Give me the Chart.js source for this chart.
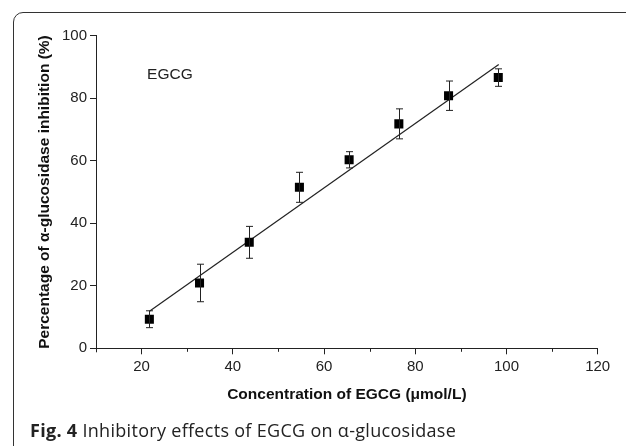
<!DOCTYPE html>
<html>
<head>
<meta charset="utf-8">
<script src="https://cdn.jsdelivr.net/npm/chart.js@4/dist/chart.umd.min.js"></script>
<style>
  html, body { margin: 0; padding: 0; background: #fff; }
  #wrap { position: relative; width: 626px; height: 446px; overflow: hidden; background: #fff; }
  #frame { position: absolute; left: 13px; top: 12px; width: 720px; height: 520px;
           border: 1.3px solid #333; border-radius: 10px; box-sizing: border-box; }
  #cap { position: absolute; left: 30px; top: 418px; font-family: "Open Sans", sans-serif;
         font-size: 18px; letter-spacing: 0.3px; color: #222; white-space: nowrap; line-height: 24px; }
  #cap b { font-weight: 700; }
  canvas { position: absolute; left: 0; top: 0; }
</style>
</head>
<body>
<div id="wrap">
  <div id="frame"></div>
  <canvas id="c" width="626" height="446"></canvas>
  <div id="cap"><b>Fig. 4</b> Inhibitory effects of EGCG on α-glucosidase</div>
</div>
<script>
// Data
const concentration = [21.7, 32.7, 43.6, 54.6, 65.5, 76.4, 87.3, 98.2];
const inhibition    = [9.3, 20.9, 33.9, 51.5, 60.3, 71.8, 80.8, 86.6];
const inhibitionErr = [2.7, 6.0, 5.1, 4.8, 2.6, 4.8, 4.7, 2.8];
const fitX = [21.8, 98.3];
const fitY = [11.9, 90.8];
const xTicks = [20, 40, 60, 80, 100, 120];
const xMinorTicks = [30, 50, 70, 90, 110];
const yTicks = [0, 20, 40, 60, 80, 100];
const seriesLabel = "EGCG";
const labelPos = [21.2, 87.4];

const ink = '#222';
const fam = '"Liberation Sans", Arial, sans-serif';

const extras = {
  id: 'extras',
  afterDatasetsDraw(chart) {
    const ctx = chart.ctx, xs = chart.scales.x, ys = chart.scales.y;
    ctx.save();
    ctx.strokeStyle = ink;
    ctx.lineWidth = 1;
    concentration.forEach((cx, i) => {
      const px = Math.round(xs.getPixelForValue(cx)) + 0.5;
      const top = ys.getPixelForValue(inhibition[i] + inhibitionErr[i]);
      const bot = ys.getPixelForValue(inhibition[i] - inhibitionErr[i]);
      ctx.beginPath();
      ctx.moveTo(px, top); ctx.lineTo(px, bot);
      ctx.moveTo(px - 3.5, top); ctx.lineTo(px + 3.5, top);
      ctx.moveTo(px - 3.5, bot); ctx.lineTo(px + 3.5, bot);
      ctx.stroke();
    });
    const yb = chart.chartArea.bottom;
    xMinorTicks.forEach(v => {
      const px = Math.round(xs.getPixelForValue(v)) + 0.5;
      ctx.beginPath(); ctx.moveTo(px, yb); ctx.lineTo(px, yb + 3.5); ctx.stroke();
    });
    const lx = Math.round(chart.chartArea.left) + 0.5;
    ctx.beginPath(); ctx.moveTo(lx, yb); ctx.lineTo(lx, yb + 4); ctx.stroke();
    ctx.fillStyle = ink;
    ctx.font = '15.5px ' + fam;
    ctx.textAlign = 'left';
    ctx.textBaseline = 'middle';
    ctx.fillText(seriesLabel, xs.getPixelForValue(labelPos[0]), ys.getPixelForValue(labelPos[1]));
    ctx.restore();
  }
};

new Chart(document.getElementById('c'), {
  type: 'scatter',
  data: {
    datasets: [
      {
        label: 'fit',
        type: 'line',
        data: fitX.map((x, i) => ({ x, y: fitY[i] })),
        borderColor: ink,
        borderWidth: 1.2,
        pointRadius: 0,
        fill: false,
        order: 2
      },
      {
        label: seriesLabel,
        data: concentration.map((x, i) => ({ x, y: inhibition[i] })),
        pointStyle: 'rect',
        pointRadius: 6.4,
        backgroundColor: '#000',
        borderColor: '#000',
        borderWidth: 0,
        order: 1
      }
    ]
  },
  options: {
    responsive: false,
    animation: false,
    devicePixelRatio: 1,
    layout: { padding: { left: 0, top: 35.7, right: 28.3, bottom: 0 } },
    plugins: { legend: { display: false }, tooltip: { enabled: false } },
    scales: {
      x: {
        type: 'linear',
        min: 10, max: 120,
        afterBuildTicks: s => { s.ticks = xTicks.map(v => ({ value: v })); },
        afterFit: s => { s.height = 446 - 348.3; },
        grid: { display: true, drawOnChartArea: false, drawTicks: true, tickLength: 6, color: ink, lineWidth: 1 },
        border: { display: true, color: ink, width: 1 },
        ticks: { color: ink, padding: 4, maxRotation: 0, font: { family: fam, size: 15 } },
        title: {
          display: true,
          text: 'Concentration of EGCG (μmol/L)',
          color: '#111',
          font: { family: fam, size: 15.5, weight: 'bold' },
          padding: { top: 0, bottom: 41.8 }
        }
      },
      y: {
        type: 'linear',
        min: 0, max: 100,
        afterBuildTicks: s => { s.ticks = yTicks.map(v => ({ value: v })); },
        afterFit: s => { s.width = 96; },
        grid: { display: true, drawOnChartArea: false, drawTicks: true, tickLength: 6, color: ink, lineWidth: 1 },
        border: { display: true, color: ink, width: 1 },
        ticks: { color: ink, padding: 3, font: { family: fam, size: 15 } },
        title: {
          display: true,
          text: 'Percentage of α-glucosidase inhibition (%)',
          color: '#111',
          font: { family: fam, size: 15.5, weight: 'bold' },
          padding: { top: 35.7, bottom: 0 }
        }
      }
    }
  },
  plugins: [extras]
});
</script>
</body>
</html>
